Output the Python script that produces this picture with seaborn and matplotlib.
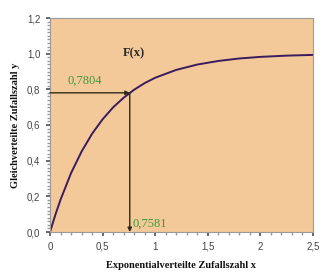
import matplotlib
matplotlib.use("Agg")
import matplotlib.pyplot as plt
import seaborn as sns
import pandas as pd
from matplotlib.ticker import MultipleLocator

# Data
x_vals = [0.0, 0.05, 0.1, 0.2, 0.3, 0.4, 0.5, 0.6, 0.7, 0.8, 0.9, 1.0, 1.2, 1.4, 1.6, 1.8, 2.0, 2.25, 2.5]
y_vals = [0.0, 0.095, 0.181, 0.330, 0.451, 0.551, 0.632, 0.699, 0.753, 0.798, 0.835, 0.865, 0.909, 0.939, 0.959, 0.973, 0.982, 0.989, 0.993]
x_mark = 0.7581
y_mark = 0.7804
x_ticks = [0, 0.5, 1, 1.5, 2, 2.5]
x_ticklabels = ["0", "0,5", "1", "1,5", "2", "2,5"]
y_ticks = [0.0, 0.2, 0.4, 0.6, 0.8, 1.0, 1.2]
y_ticklabels = ["0,0", "0,2", "0,4", "0,6", "0,8", "1,0", "1,2"]

df = pd.DataFrame({"x": x_vals, "y": y_vals})

sns.set_theme(style="white")
plt.rcParams['font.family'] = ['Liberation Sans', 'DejaVu Sans']

fig = plt.figure(figsize=(3.30, 2.79), dpi=100)
ax = fig.add_axes([50/330, 1 - 232/279, 263/330, 214/279])
ax.set_facecolor("#F3C99A")

sns.lineplot(data=df, x="x", y="y", ax=ax, color="#3A1B5C", linewidth=1.4)

line_col = "#2E2A18"
ax.annotate("", xy=(x_mark, y_mark), xytext=(0, y_mark),
            arrowprops=dict(arrowstyle="-|>", color=line_col, lw=1.0, mutation_scale=6,
                            shrinkA=0, shrinkB=0))
ax.annotate("", xy=(x_mark, 0), xytext=(x_mark, y_mark),
            arrowprops=dict(arrowstyle="-|>", color=line_col, lw=1.0, mutation_scale=6,
                            shrinkA=0, shrinkB=0))

green = "#3F9A3A"
ax.text(0.17, 0.815, "0,7804", color=green, fontsize=9, family="Liberation Serif",
        ha="left", va="bottom")
ax.text(x_mark + 0.03, 0.01, "0,7581", color=green, fontsize=9, family="Liberation Serif",
        ha="left", va="bottom")
ax.text(0.8, 1.0, "F(x)", color="#2A2A2A", fontsize=9, family="Liberation Serif",
        fontweight="bold", ha="center", va="center")

ax.set_xlim(0, 2.5)
ax.set_ylim(0, 1.2)
ax.set_xticks(x_ticks)
ax.set_xticklabels(x_ticklabels)
ax.set_yticks(y_ticks)
ax.set_yticklabels(y_ticklabels)
ax.xaxis.set_minor_locator(MultipleLocator(0.1))
ax.yaxis.set_minor_locator(MultipleLocator(0.02))
ax.tick_params(axis="both", which="major", labelsize=7, colors="#555555", length=3,
               direction="out", bottom=True, left=True, labelcolor="#444444", pad=4)
ax.tick_params(axis="both", which="minor", length=2, color="#999999", bottom=True, left=True)

for s in ax.spines.values():
    s.set_color("#9A9A9A")
    s.set_linewidth(0.8)

ax.set_xlabel("Exponentialverteilte Zufallszahl x", family="Liberation Serif",
              fontweight="bold", fontsize=7.5, color="#111111", labelpad=7)
ax.set_ylabel("Gleichverteilte Zufallszahl y", family="Liberation Serif",
              fontweight="bold", fontsize=7.5, color="#111111", labelpad=5)

fig.savefig("out.png", dpi=100, facecolor="white")
